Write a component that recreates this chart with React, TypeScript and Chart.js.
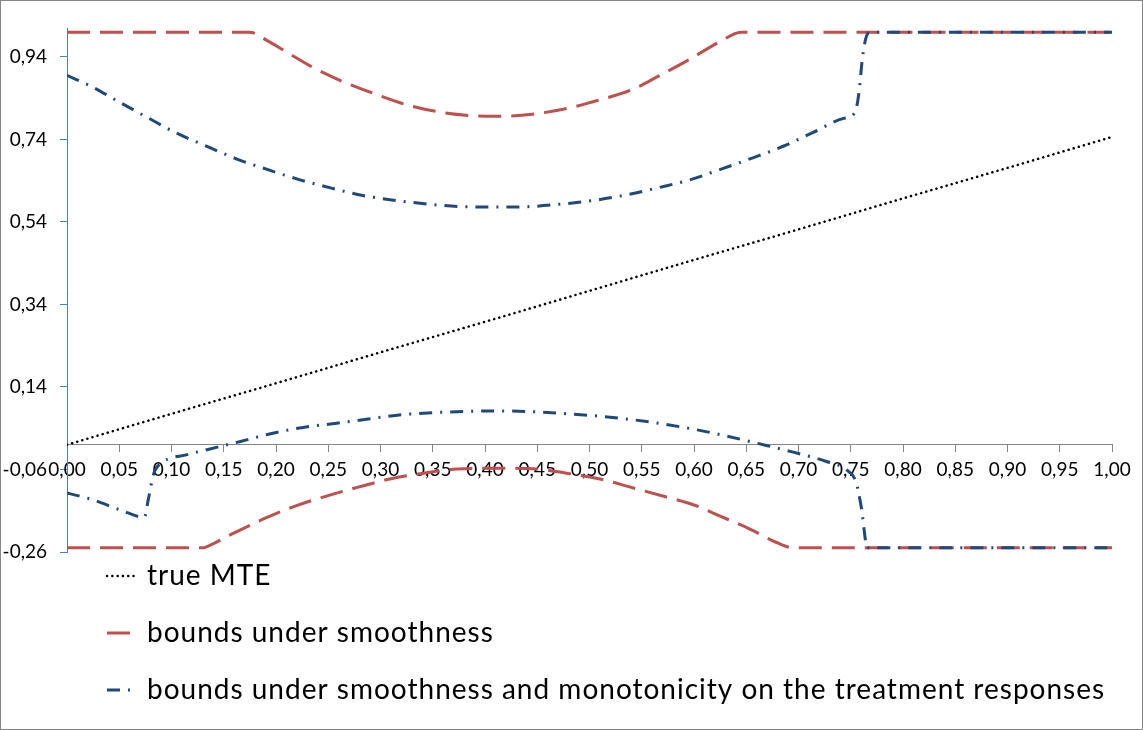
import React, { useEffect, useRef } from 'react';
import { Chart, registerables } from 'chart.js';

Chart.register(...registerables);

// true MTE (straight line)
const mteX = [0, 0.1, 0.2, 0.3, 0.4, 0.5, 0.6, 0.7, 0.8, 0.9, 1.0];
const mteY = [0, 0.075, 0.149, 0.224, 0.298, 0.373, 0.448, 0.522, 0.597, 0.671, 0.746];

// bounds under smoothness
const smoothUpperX = [0, 0.175, 0.19, 0.21, 0.235, 0.265, 0.295, 0.325, 0.355, 0.385, 0.41, 0.445, 0.48, 0.51, 0.54, 0.565, 0.595, 0.625, 0.645, 1.0];
const smoothUpperY = [1, 1, 0.982, 0.952, 0.915, 0.879, 0.85, 0.824, 0.807, 0.798, 0.796, 0.801, 0.816, 0.836, 0.86, 0.892, 0.933, 0.977, 1, 1];
const smoothLowerX = [0, 0.13, 0.134, 0.159, 0.188, 0.217, 0.249, 0.277, 0.309, 0.341, 0.373, 0.414, 0.446, 0.478, 0.51, 0.542, 0.571, 0.6, 0.625, 0.654, 0.679, 0.695, 1.0];
const smoothLowerY = [-0.25, -0.25, -0.247, -0.215, -0.18, -0.15, -0.124, -0.104, -0.083, -0.069, -0.059, -0.057, -0.058, -0.069, -0.083, -0.105, -0.125, -0.146, -0.173, -0.205, -0.237, -0.25, -0.25];

// bounds under smoothness and monotonicity
const monoUpperX = [0, 0.022, 0.049, 0.077, 0.105, 0.134, 0.162, 0.193, 0.223, 0.253, 0.283, 0.315, 0.346, 0.378, 0.41, 0.441, 0.472, 0.504, 0.536, 0.566, 0.596, 0.626, 0.657, 0.686, 0.714, 0.743, 0.754, 0.758, 0.761, 0.765, 0.769, 1.0];
const monoUpperY = [0.895, 0.87, 0.832, 0.793, 0.755, 0.723, 0.693, 0.666, 0.642, 0.622, 0.604, 0.592, 0.583, 0.577, 0.576, 0.577, 0.583, 0.592, 0.606, 0.623, 0.642, 0.668, 0.696, 0.724, 0.757, 0.791, 0.805, 0.856, 0.933, 0.99, 1, 1];
const monoLowerX = [0, 0.024, 0.052, 0.074, 0.078, 0.083, 0.09, 0.115, 0.134, 0.166, 0.197, 0.226, 0.258, 0.29, 0.322, 0.352, 0.386, 0.414, 0.446, 0.478, 0.51, 0.54, 0.571, 0.603, 0.633, 0.663, 0.695, 0.726, 0.746, 0.755, 0.76, 0.766, 1.0];
const monoLowerY = [-0.117, -0.133, -0.159, -0.176, -0.13, -0.07, -0.045, -0.024, -0.012, 0.008, 0.028, 0.042, 0.052, 0.063, 0.073, 0.078, 0.081, 0.082, 0.08, 0.075, 0.069, 0.061, 0.05, 0.036, 0.02, 0.002, -0.018, -0.04, -0.061, -0.09, -0.15, -0.25, -0.25];

const xTicks = [0, 0.05, 0.1, 0.15, 0.2, 0.25, 0.3, 0.35, 0.4, 0.45, 0.5, 0.55, 0.6, 0.65, 0.7, 0.75, 0.8, 0.85, 0.9, 0.95, 1.0];
const yTicks = [-0.26, -0.06, 0.14, 0.34, 0.54, 0.74, 0.94];

const legendLabels = [
  'true MTE',
  'bounds under smoothness',
  'bounds under smoothness and monotonicity on the treatment responses',
];

const RED = '#C0504D';
const BLUE = '#1F497D';
const FONT = 'Lato, "Open Sans", sans-serif';

const DOTS = [0.1, 5.2];
const LONG_DASH = [23, 10];
const DASH_DOT = [13, 8, 2, 8];

const fmt = (v: number) => v.toFixed(2).replace('.', ',');
const toPoints = (xs: number[], ys: number[]) => xs.map((x, i) => ({ x, y: ys[i] }));

// white background + grey frame round the whole chart
const framePlugin = {
  id: 'frame',
  beforeDraw(chart: Chart) {
    const { ctx, width, height } = chart;
    ctx.save();
    ctx.fillStyle = '#fff';
    ctx.fillRect(0, 0, width, height);
    ctx.restore();
  },
  afterDraw(chart: Chart) {
    const { ctx, width, height } = chart;
    ctx.save();
    ctx.strokeStyle = '#868686';
    ctx.lineWidth = 1;
    ctx.strokeRect(0.5, 0.5, width - 1, height - 1);
    ctx.restore();
  },
};

// Excel-like legend: one item per row under the plot
const legendPlugin = {
  id: 'stackedLegend',
  afterDraw(chart: Chart) {
    const { ctx, chartArea } = chart;
    const items = [
      { text: legendLabels[0], color: '#000', dash: DOTS, width: 2.5, cap: 'round', len: 31 },
      { text: legendLabels[1], color: RED, dash: LONG_DASH, width: 3, cap: 'butt', len: 23 },
      { text: legendLabels[2], color: BLUE, dash: DASH_DOT, width: 3, cap: 'butt', len: 24 },
    ];
    ctx.save();
    ctx.font = `28px ${FONT}`;
    (ctx as any).letterSpacing = '1px';
    ctx.textBaseline = 'middle';
    items.forEach((it, i) => {
      const y = chartArea.bottom + 24 + i * 57;
      ctx.beginPath();
      ctx.setLineDash(it.dash);
      ctx.lineWidth = it.width;
      ctx.lineCap = it.cap as CanvasLineCap;
      ctx.strokeStyle = it.color;
      ctx.moveTo(107, y);
      ctx.lineTo(107 + it.len, y);
      ctx.stroke();
      ctx.setLineDash([]);
      ctx.fillStyle = '#000';
      ctx.fillText(it.text, 147, y);
    });
    ctx.restore();
  },
};

const App: React.FC = () => {
  const canvasRef = useRef<HTMLCanvasElement | null>(null);
  const chartRef = useRef<Chart | null>(null);

  useEffect(() => {
    document.body.style.margin = '0';
    if (!canvasRef.current) return;
    const ctx = canvasRef.current.getContext('2d');
    if (!ctx) return;
    if (chartRef.current) chartRef.current.destroy();

    const line = (label: string, xs: number[], ys: number[], color: string, dash: number[], width: number, order: number, cap: 'butt' | 'round' = 'butt') => ({
      label,
      data: toPoints(xs, ys),
      borderColor: color,
      borderWidth: width,
      borderDash: dash,
      borderCapStyle: cap,
      pointRadius: 0,
      cubicInterpolationMode: 'monotone' as const,
      fill: false,
      order,
    });

    chartRef.current = new Chart(ctx, {
      type: 'line',
      data: {
        datasets: [
          line(legendLabels[0], mteX, mteY, '#000', DOTS, 2.5, 2, 'round'),
          line(legendLabels[1], smoothUpperX, smoothUpperY, RED, LONG_DASH, 3, 1),
          line(legendLabels[1], smoothLowerX, smoothLowerY, RED, LONG_DASH, 3, 1),
          line(legendLabels[2], monoUpperX, monoUpperY, BLUE, DASH_DOT, 3, 0),
          line(legendLabels[2], monoLowerX, monoLowerY, BLUE, DASH_DOT, 3, 0),
        ],
      },
      options: {
        responsive: false,
        animation: false,
        layout: { padding: { top: 28, right: 31, bottom: 178, left: 0 } },
        plugins: {
          legend: { display: false },
          tooltip: { enabled: false },
        },
        scales: {
          x: {
            type: 'linear',
            position: { y: 0 },
            min: 0,
            max: 1,
            afterBuildTicks: (scale: any) => {
              scale.ticks = xTicks.map((v) => ({ value: v }));
            },
            ticks: {
              autoSkip: false,
              maxRotation: 0,
              padding: 7,
              color: '#000',
              font: { family: FONT, size: 19 },
              callback: (v: any) => fmt(Number(v)),
            },
            grid: { drawOnChartArea: false, drawTicks: true, tickLength: 7, color: '#868686' },
            border: { color: '#868686', width: 1 },
          },
          y: {
            type: 'linear',
            min: -0.26,
            max: 1.01,
            afterBuildTicks: (scale: any) => {
              scale.ticks = yTicks.map((v) => ({ value: v }));
            },
            afterFit: (scale: any) => {
              scale.width = 67;
            },
            ticks: {
              padding: 13,
              color: '#000',
              font: { family: FONT, size: 19 },
              callback: (v: any) => fmt(Number(v)),
            },
            grid: { drawOnChartArea: false, drawTicks: true, tickLength: 7, color: '#4F81BD' },
            border: { color: '#4F81BD', width: 1 },
          },
        },
      },
      plugins: [framePlugin, legendPlugin],
    });

    return () => {
      if (chartRef.current) {
        chartRef.current.destroy();
        chartRef.current = null;
      }
    };
  }, []);

  return <canvas ref={canvasRef} width={1143} height={730} style={{ display: 'block' }} />;
};

export default App;
